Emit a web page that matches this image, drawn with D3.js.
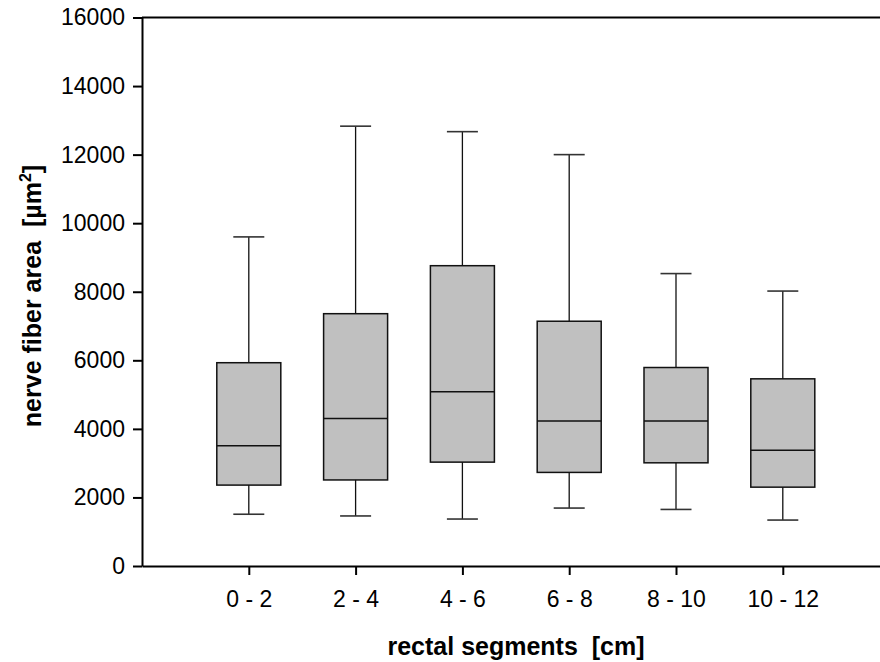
<!DOCTYPE html>
<html>
<head>
<meta charset="utf-8">
<script src="https://cdn.jsdelivr.net/npm/d3@7"></script>
<style>
  body { margin: 0; background: #fff; }
  text { font-family: "Liberation Sans", Arial, sans-serif; }
</style>
</head>
<body>
<div id="chart"></div>
<script>
// box plot values
var segments = ["0 - 2", "2 - 4", "4 - 6", "6 - 8", "8 - 10", "10 - 12"];
var whiskerLow = [1510, 1460, 1370, 1690, 1650, 1340];
var q1 = [2360, 2510, 3030, 2730, 3010, 2300];
var median = [3510, 4300, 5080, 4230, 4230, 3380];
var q3 = [5930, 7360, 8760, 7140, 5790, 5460];
var whiskerHigh = [9600, 12830, 12670, 12000, 8530, 8020];
var yTicks = [0, 2000, 4000, 6000, 8000, 10000, 12000, 14000, 16000];

(function () {

  var w = 880;
  var h = 662;
  var plotLeft = 142, plotTop = 17.5, plotBottom = 566;
  var step = 106.8;

  var svg = d3.select("#chart")
    .append("svg")
    .attr("width", w)
    .attr("height", h);

  var y = d3.scaleLinear().domain([0, 16000]).range([plotBottom, plotTop]);
  var x = d3.scalePoint().domain(segments)
    .range([plotLeft, plotLeft + 7 * step]).padding(1);

  var boxW = 64, capW = 31;

  var rows = segments.map(function (s, i) {
    return { seg: s, lo: whiskerLow[i], q1: q1[i], med: median[i], q3: q3[i], hi: whiskerHigh[i] };
  });

  var g = svg.append("g");

  // whiskers
  g.selectAll(".whisk")
    .data(rows).enter()
    .append("line")
    .attr("x1", function (d) { return x(d.seg); })
    .attr("x2", function (d) { return x(d.seg); })
    .attr("y1", function (d) { return y(d.lo); })
    .attr("y2", function (d) { return y(d.hi); })
    .attr("stroke", "#111")
    .attr("stroke-width", 1.3);

  // caps
  ["lo", "hi"].forEach(function (k) {
    g.selectAll(".cap-" + k)
      .data(rows).enter()
      .append("line")
      .attr("x1", function (d) { return x(d.seg) - capW / 2; })
      .attr("x2", function (d) { return x(d.seg) + capW / 2; })
      .attr("y1", function (d) { return y(d[k]); })
      .attr("y2", function (d) { return y(d[k]); })
      .attr("stroke", "#333")
      .attr("stroke-width", 1.6);
  });

  // boxes
  g.selectAll(".box")
    .data(rows).enter()
    .append("rect")
    .attr("x", function (d) { return x(d.seg) - boxW / 2; })
    .attr("y", function (d) { return y(d.q3); })
    .attr("width", boxW)
    .attr("height", function (d) { return y(d.q1) - y(d.q3); })
    .attr("fill", "#c0c0c0")
    .attr("stroke", "#111")
    .attr("stroke-width", 1.5);

  // medians
  g.selectAll(".med")
    .data(rows).enter()
    .append("line")
    .attr("x1", function (d) { return x(d.seg) - boxW / 2; })
    .attr("x2", function (d) { return x(d.seg) + boxW / 2; })
    .attr("y1", function (d) { return y(d.med); })
    .attr("y2", function (d) { return y(d.med); })
    .attr("stroke", "#111")
    .attr("stroke-width", 1.5);

  // top frame line
  svg.append("line")
    .attr("x1", plotLeft)
    .attr("x2", w)
    .attr("y1", y(16000))
    .attr("y2", y(16000))
    .attr("stroke", "#000")
    .attr("stroke-width", 2);

  // axes
  var yAxis = svg.append("g")
    .attr("transform", "translate(" + plotLeft + ",0)")
    .call(d3.axisLeft(y).tickValues(yTicks).tickFormat(d3.format("d"))
      .tickSize(9).tickSizeOuter(0).tickPadding(8));

  var xAxis = svg.append("g")
    .attr("transform", "translate(0," + plotBottom + ")")
    .call(d3.axisBottom(x).tickSize(9).tickSizeOuter(0).tickPadding(16));

  [yAxis, xAxis].forEach(function (a) {
    a.attr("font-size", 23).attr("font-family", "'Liberation Sans', Arial, sans-serif");
    a.select(".domain").attr("stroke", "#000").attr("stroke-width", 2);
    a.selectAll(".tick line").attr("stroke", "#000").attr("stroke-width", 2);
    a.selectAll(".tick text").attr("fill", "#000");
  });

  // axis titles
  svg.append("text")
    .attr("x", 516)
    .attr("y", 655)
    .attr("text-anchor", "middle")
    .style("font-size", "25px")
    .style("font-weight", "bold")
    .style("white-space", "pre")
    .text("rectal segments  [cm]");

  var yt = svg.append("text")
    .attr("transform", "translate(41,296) rotate(-90)")
    .attr("text-anchor", "middle")
    .style("font-size", "25px")
    .style("font-weight", "bold")
    .style("white-space", "pre");
  yt.append("tspan").text("nerve fiber area  [µm");
  yt.append("tspan").attr("dy", -10).style("font-size", "16px").text("2");
  yt.append("tspan").attr("dy", 10).text("]");

})();
</script>
</body>
</html>
